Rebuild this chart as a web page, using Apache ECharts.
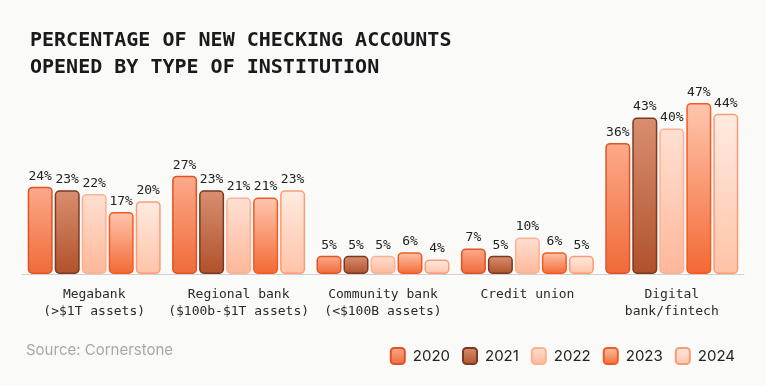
<!DOCTYPE html>
<html>
<head>
<meta charset="utf-8">
<script src="https://cdn.jsdelivr.net/npm/echarts@6/dist/echarts.min.js"></script>
<style>
  html, body { margin: 0; padding: 0; background: #fafaf9; }
  #chart { width: 766px; height: 386px; }
</style>
</head>
<body>
<div id="chart"></div>
<script>
var categories = [
  "Megabank\n(>$1T assets)",
  "Regional bank\n($100b-$1T assets)",
  "Community bank\n(<$100B assets)",
  "Credit union",
  "Digital\nbank/fintech"
];
var years = ["2020", "2021", "2022", "2023", "2024"];
var values2020 = [24, 27, 5, 7, 36];
var values2021 = [23, 23, 5, 5, 43];
var values2022 = [22, 21, 5, 10, 40];
var values2023 = [17, 21, 6, 6, 47];
var values2024 = [20, 23, 4, 5, 44];

var allValues = [values2020, values2021, values2022, values2023, values2024];

// [top, bottom, border]
var palette = [
  ["#fcaa8b", "#f06a38", "#de5428"],
  ["#d98f70", "#b0512b", "#7c3820"],
  ["#ffe0d2", "#ffb799", "#ffb090"],
  ["#ffc6ae", "#f36934", "#f45b22"],
  ["#ffebe1", "#ffc3a7", "#ff9a74"]
];

var mono = "DejaVu Sans Mono";
var sans = "Inter";

var chartDom = document.getElementById("chart");
var myChart = echarts.init(chartDom);

var series = years.map(function (y, i) {
  return {
    name: y,
    type: "bar",
    data: allValues[i],
    barWidth: 25,
    barGap: "8%",
    itemStyle: {
      color: new echarts.graphic.LinearGradient(0, 0, 0, 1, [
        { offset: 0, color: palette[i][0] },
        { offset: 1, color: palette[i][1] }
      ]),
      borderColor: palette[i][2],
      borderWidth: 1.5,
      borderRadius: 4
    },
    label: {
      show: true,
      position: "top",
      distance: 4,
      formatter: "{c}%",
      fontFamily: mono,
      fontSize: 13,
      color: "#222"
    }
  };
});

var option = {
  backgroundColor: "#fafaf9",
  animation: false,
  title: {
    text: "PERCENTAGE OF NEW CHECKING ACCOUNTS\nOPENED BY TYPE OF INSTITUTION",
    left: 25,
    top: 22,
    textStyle: {
      fontFamily: mono,
      fontWeight: "bold",
      fontSize: 20,
      lineHeight: 27,
      color: "#1a1a1a"
    }
  },
  legend: {
    data: years,
    right: 26,
    top: 342,
    itemWidth: 14,
    itemHeight: 16,
    itemGap: 12,
    icon: "roundRect",
    textStyle: {
      fontFamily: sans,
      fontSize: 15,
      color: "#222",
      padding: [0, 0, 0, 3]
    }
  },
  graphic: [
    {
      type: "text",
      left: 26,
      top: 343,
      style: {
        text: "Source: Cornerstone",
        fontFamily: sans,
        fontSize: 15,
        fill: "#a8a8a8"
      }
    }
  ],
  grid: {
    left: 22,
    right: 22,
    top: 92,
    bottom: 112
  },
  xAxis: {
    type: "category",
    data: categories,
    axisTick: { show: false },
    axisLine: { lineStyle: { color: "#d0d0d0", width: 1 } },
    axisLabel: {
      margin: 12,
      fontFamily: mono,
      fontSize: 13,
      lineHeight: 17,
      color: "#2a2a2a",
      interval: 0
    }
  },
  yAxis: {
    type: "value",
    min: 0,
    max: 50,
    show: false,
    splitLine: { show: false }
  },
  series: series
};

myChart.setOption(option);
</script>
</body>
</html>
